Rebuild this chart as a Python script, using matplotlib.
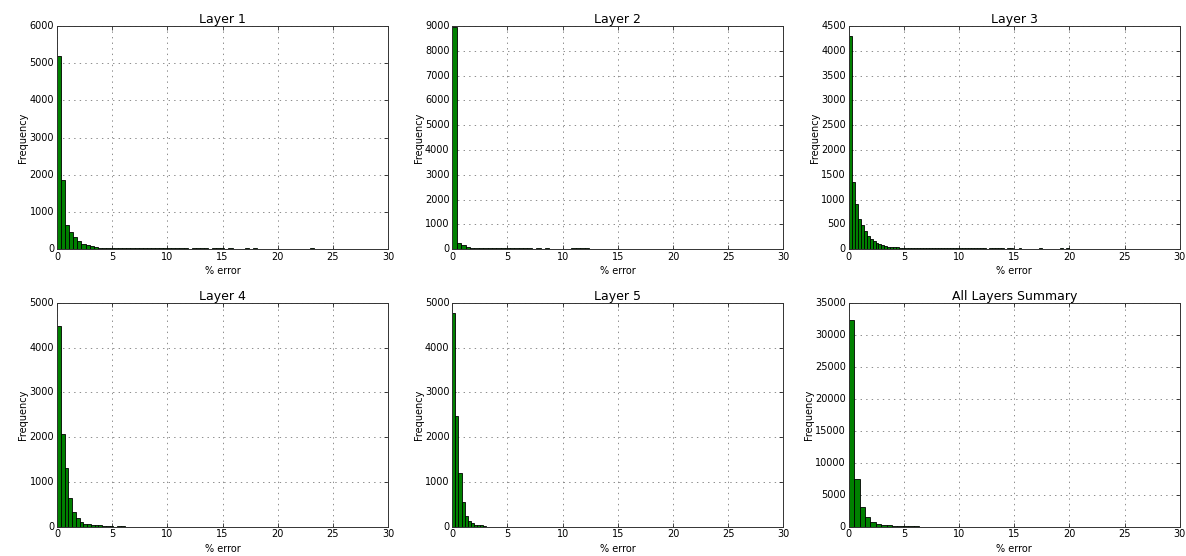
import matplotlib
matplotlib.use("Agg")
import matplotlib.pyplot as plt
import numpy as np

titles = ["Layer 1", "Layer 2", "Layer 3", "Layer 4", "Layer 5", "All Layers Summary"]

# bin widths (% error)
bin_widths = [0.37, 0.40, 0.27, 0.34, 0.28, 0.49]

layer1_counts = [5200, 1850, 650, 470, 340, 220, 150, 110, 80, 60, 45, 40, 38,
                 36, 35, 34, 34, 33, 33, 32, 32, 31, 31, 31, 30, 30, 30, 30, 30, 30, 30, 30,
                 0, 30, 30, 30, 30, 0, 30, 30, 30, 0, 30, 0, 0, 0, 30, 0, 30,
                 0, 0, 0, 0, 0, 0, 0, 0, 0, 0, 0, 0, 0, 30]
layer2_counts = [8950, 270, 175, 110, 60, 50, 48, 46, 45, 45, 45, 45, 45, 45, 45, 45, 45, 45,
                 0, 45, 0, 45, 0, 0, 0, 0, 0, 45, 45, 45, 45]
layer3_counts = [4300, 1350, 910, 610, 490, 360, 260, 200, 160, 135, 110, 90, 70, 55, 47,
                 42, 38, 35, 33, 31, 30, 29, 28, 27, 25,
                 22, 22, 22, 21, 21, 21, 21, 20, 20, 20, 20, 20, 20, 20, 20, 20, 20, 20, 20, 20, 20,
                 0, 20, 20, 20, 20, 20, 0, 20, 20, 0, 0, 20, 0, 0, 0, 0, 0, 0, 20,
                 0, 0, 0, 0, 0, 0, 20, 0, 20]
layer4_counts = [4490, 2080, 1320, 640, 335, 195, 108, 70, 57, 40, 32, 28, 26, 25, 24, 0, 24, 24]
layer5_counts = [4775, 2460, 1200, 550, 245, 125, 72, 45, 35, 28, 24]
summary_counts = [32300, 7450, 3050, 1550, 750, 400, 260, 200, 180, 170, 160, 160, 160]

all_counts = [layer1_counts, layer2_counts, layer3_counts,
              layer4_counts, layer5_counts, summary_counts]
y_max = [6000, 9000, 4500, 5000, 5000, 35000]
x_max = 30

plt.style.use("classic")
plt.rcParams["font.family"] = "DejaVu Sans"

fig = plt.figure(figsize=(11.86, 5.56), dpi=100, facecolor="white")

W, H = 1186.0, 556.0
lefts = [57, 452.3, 848.7]
tops = [26, 302.7]
ax_w = 331.0
ax_h = [223.3, 224.0]

for i, (title, counts, bw, ym) in enumerate(zip(titles, all_counts, bin_widths, y_max)):
    r, c = divmod(i, 3)
    left = lefts[c] / W
    bottom = 1 - (tops[r] + ax_h[r]) / H
    ax = fig.add_axes([left, bottom, ax_w / W, ax_h[r] / H])
    counts = np.asarray(counts, dtype=float)
    edges = np.arange(len(counts) + 1) * bw
    centers = (edges[:-1] + edges[1:]) / 2
    ax.hist(centers, bins=edges, weights=counts, color="green",
            edgecolor="black", linewidth=0.6)
    ax.set_xlim(0, x_max)
    ax.set_ylim(0, ym)
    ax.set_title(title, fontsize=9, pad=2)
    ax.set_xlabel("% error", fontsize=7, labelpad=3)
    ax.set_ylabel("Frequency", fontsize=7, labelpad=1)
    ax.tick_params(labelsize=7, length=3, width=0.5, pad=2)
    ax.grid(True, linestyle=":", color="0.55", linewidth=0.7)
    ax.set_axisbelow(True)
    for s in ax.spines.values():
        s.set_linewidth(0.7)
        s.set_color("0.2")

fig.savefig("out.png", dpi=100, facecolor="white")
